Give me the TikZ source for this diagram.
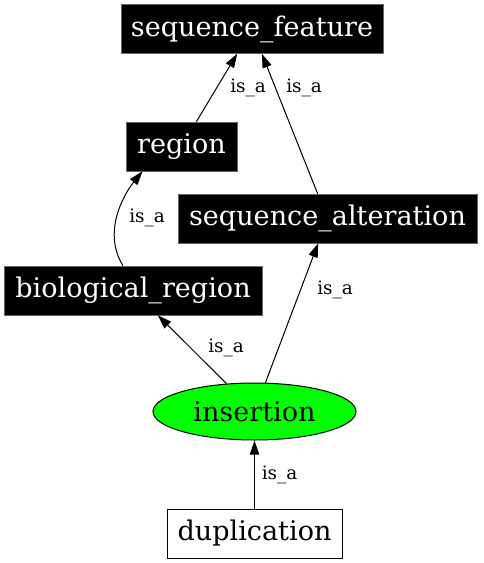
\documentclass[tikz,border=0pt]{standalone}
\usepackage{fontspec}
\setmainfont{DejaVu Serif}
\usetikzlibrary{arrows.meta,calc,shapes.geometric}
\begin{document}
\begin{tikzpicture}[x=0.75pt,y=-0.75pt,
  blackbox/.style={rectangle,fill=black,draw=black!60,line width=0.4pt,text=white,font=\fontsize{20.3}{22}\selectfont,inner sep=0pt,minimum height=36.75pt},
  whitebox/.style={rectangle,fill=white,draw=black,line width=0.75pt,text=black,font=\fontsize{20.3}{22}\selectfont,inner sep=0pt,minimum height=36.75pt},
  greenell/.style={ellipse,fill=green,draw=black,line width=0.75pt,font=\fontsize{20.3}{22}\selectfont,inner sep=0pt,minimum width=152.25pt,minimum height=42.75pt},
  arr/.style={draw=black,line width=0.75pt,-{Triangle[length=10.5pt,width=7pt]}},
  lbl/.style={font=\fontsize{13.8}{15}\selectfont,inner sep=0pt}]
\useasboundingbox (0,0) rectangle (483,563);
\node[blackbox,minimum width=196.5pt] (sf) at (252,29) {sequence\_feature};
\node[blackbox,minimum width=83.25pt] (region) at (181.5,146.5) {region};
\node[blackbox,minimum width=224.25pt] (sa) at (327.5,218.5) {sequence\_alteration};
\node[blackbox,minimum width=193.5pt] (br) at (133,290.5) {biological\_region};
\node[greenell] (ins) at (254.5,411.5) {insertion};
\node[whitebox,minimum width=131.25pt] (dup) at (254.5,533.5) {duplication};
\draw[arr] (region) -- (sf);
\draw[arr] (sa) -- (sf);
\draw[arr] ($(br.north)+(-10,0)$) .. controls (102,232) and (124,194) .. ($(region.south)+(-39,0)$);
\draw[arr] (ins) -- (br);
\draw[arr] (ins) -- (sa);
\draw[arr] (dup) -- (ins);
\node[lbl] (l1) at (248,88) {is\_a};
\node[lbl] (l2) at (304,88) {is\_a};
\node[lbl] (l3) at (147,218) {is\_a};
\node[lbl] (l4) at (226,348) {is\_a};
\node[lbl] (l5) at (335,290) {is\_a};
\node[lbl] (l6) at (279.5,475) {is\_a};
\end{tikzpicture}
\end{document}
